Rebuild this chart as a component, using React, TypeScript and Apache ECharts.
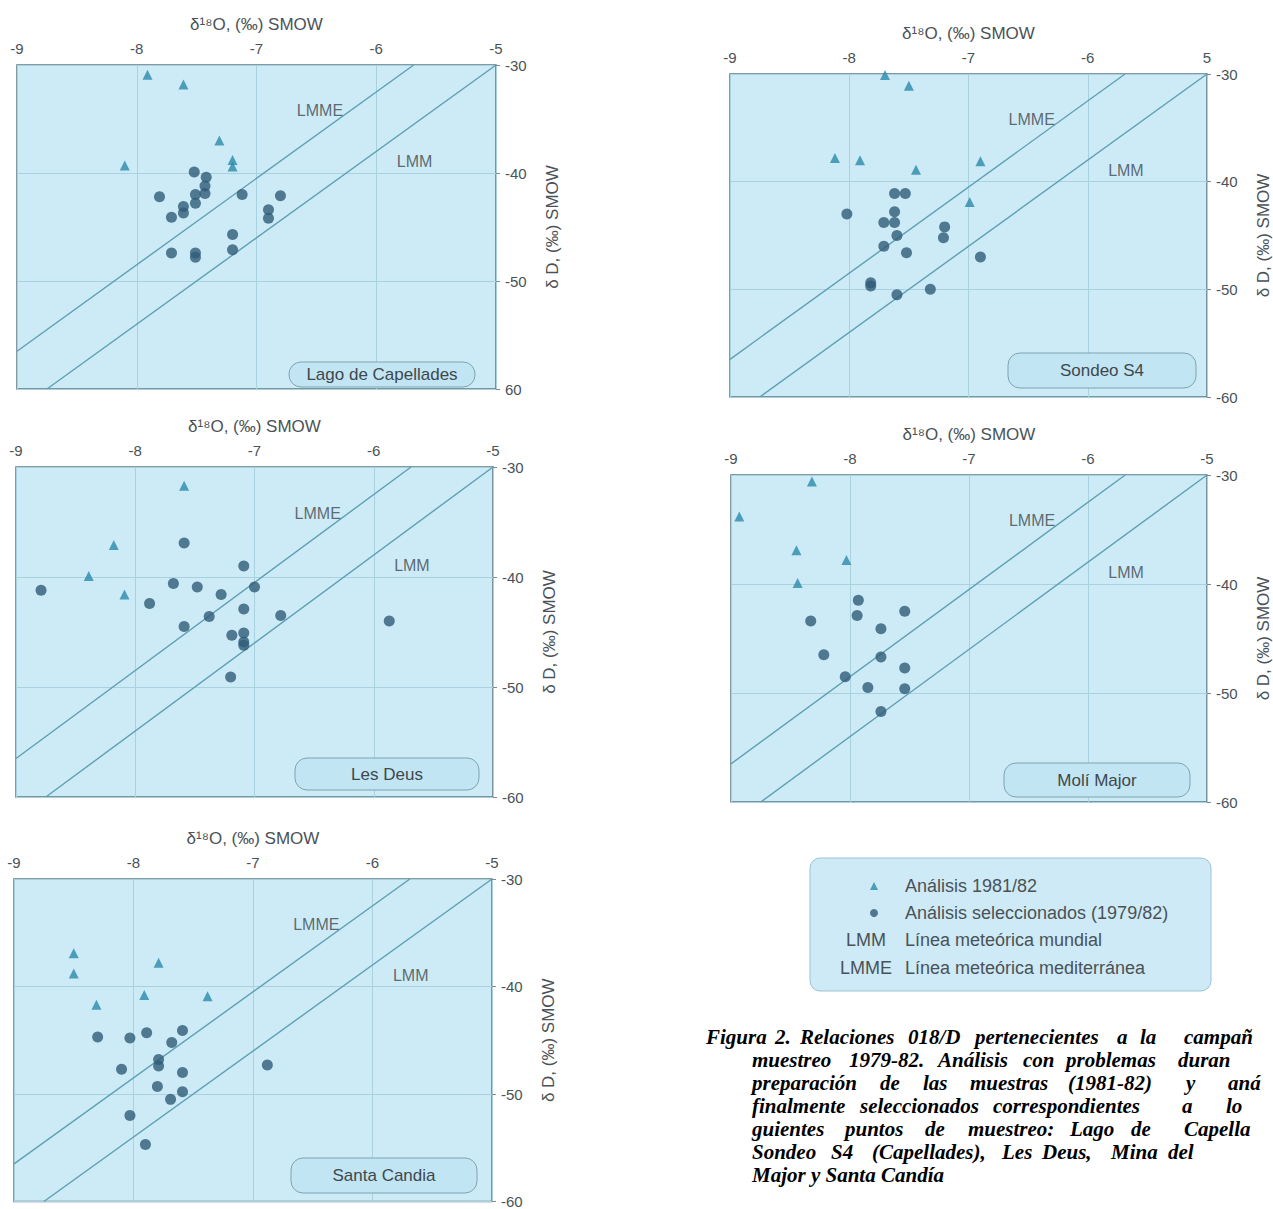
import React, { useEffect, useRef } from "react";
import * as echarts from "echarts";

// ---------- tick labels ----------
const xTickLabels = ["-9", "-8", "-7", "-6", "-5"];
const xTickLabelsSondeo = ["-9", "-8", "-7", "-6", "5"];
const yTickLabels = ["-60", "-50", "-40", "-30"];
const yTickLabelsLago = ["60", "-50", "-40", "-30"];

const xAxisName = "δ¹⁸O, (‰) SMOW";
const yAxisName = "δ D, (‰) SMOW";

const panelNames = ["Lago de Capellades", "Sondeo S4", "Les Deus", "Molí Major", "Santa Candia"];

const triName = "Análisis 1981/82";
const circName = "Análisis seleccionados (1979/82)";

// ---------- data [δ18O, δD] ----------
const lagoTriangles = [[-7.91, -30.9], [-7.61, -31.8], [-7.31, -37.0], [-8.10, -39.3], [-7.20, -38.8], [-7.20, -39.4]];
const lagoCircles = [
  [-7.52, -39.9], [-7.42, -40.4], [-7.43, -41.2], [-7.43, -41.9], [-7.81, -42.2], [-7.51, -42.0],
  [-7.51, -42.8], [-7.12, -42.0], [-6.80, -42.1], [-7.61, -43.1], [-7.61, -43.7], [-7.71, -44.1],
  [-6.90, -43.4], [-6.90, -44.2], [-7.20, -45.7], [-7.20, -47.1], [-7.71, -47.4], [-7.51, -47.4], [-7.51, -47.8],
];

const sondeoTriangles = [[-7.70, -30.1], [-7.50, -31.1], [-8.12, -37.8], [-7.91, -38.0], [-7.44, -38.9], [-6.90, -38.1], [-6.99, -41.9]];
const sondeoCircles = [
  [-7.62, -41.1], [-7.53, -41.1], [-8.02, -43.0], [-7.62, -42.8], [-7.71, -43.8], [-7.62, -43.8],
  [-7.60, -45.0], [-7.20, -44.2], [-7.21, -45.2], [-7.71, -46.0], [-7.52, -46.6], [-6.90, -47.0],
  [-7.82, -49.4], [-7.82, -49.7], [-7.32, -50.0], [-7.60, -50.5],
];

const deusTriangles = [[-7.59, -31.7], [-8.18, -37.1], [-8.39, -39.9], [-8.09, -41.6]];
const deusCircles = [
  [-8.79, -41.2], [-7.59, -36.9], [-7.09, -39.0], [-7.68, -40.6], [-7.48, -40.9], [-7.00, -40.9],
  [-7.28, -41.6], [-7.88, -42.4], [-7.09, -42.9], [-7.38, -43.6], [-6.78, -43.5], [-7.59, -44.5],
  [-5.87, -44.0], [-7.09, -45.1], [-7.19, -45.3], [-7.09, -45.9], [-7.09, -46.2], [-7.20, -49.1],
];

const moliTriangles = [[-8.32, -30.6], [-8.93, -33.8], [-8.45, -36.9], [-8.03, -37.8], [-8.44, -39.9]];
const moliCircles = [
  [-7.93, -41.5], [-7.94, -42.9], [-7.54, -42.5], [-8.33, -43.4], [-7.74, -44.1], [-8.22, -46.5],
  [-7.74, -46.7], [-7.54, -47.7], [-8.04, -48.5], [-7.85, -49.5], [-7.54, -49.6], [-7.74, -51.7],
];

const candiaTriangles = [[-8.50, -36.9], [-8.50, -38.8], [-7.79, -37.8], [-7.91, -40.8], [-7.38, -40.9], [-8.31, -41.7]];
const candiaCircles = [
  [-8.30, -44.7], [-8.03, -44.8], [-7.89, -44.3], [-7.59, -44.1], [-7.68, -45.2], [-7.79, -46.8],
  [-7.79, -47.4], [-8.10, -47.7], [-7.59, -48.0], [-6.88, -47.3], [-7.80, -49.3], [-7.59, -49.8],
  [-7.69, -50.5], [-8.03, -52.0], [-7.90, -54.7],
];

// meteoric lines (end points)
const lmmLine = [[-8.75, -60], [-5, -30]];
const lmmeLine = [[-9, -56.5], [-5.6875, -30]];
const lmmLabelPos = [-5.68, -38.95];
const lmmeLabelPos = [-6.47, -34.2];

const panelTriangles = [lagoTriangles, sondeoTriangles, deusTriangles, moliTriangles, candiaTriangles];
const panelCircles = [lagoCircles, sondeoCircles, deusCircles, moliCircles, candiaCircles];

// legend extra rows
const legendLineRows = [
  ["LMM", "Línea meteórica mundial"],
  ["LMME", "Línea meteórica mediterránea"],
];

// caption (as visible in the picture, cut at the right edge)
const captionLines = [
  ["Figura", "2.", "Relaciones", "018/D", "pertenecientes", "a", "la", "campañ"],
  ["muestreo", "1979-82.", "Análisis", "con", "problemas", "duran"],
  ["preparación", "de", "las", "muestras", "(1981-82)", "y", "aná"],
  ["finalmente", "seleccionados", "correspondientes", "a", "lo"],
  ["guientes", "puntos", "de", "muestreo:", "Lago", "de", "Capella"],
  ["Sondeo", "S4", "(Capellades),", "Les", "Deus,", "Mina", "del"],
  ["Major y Santa Candía"],
];

// ---------- layout (pixels) ----------
const panelLayout = [
  { left: 17, top: 65, width: 479, height: 324, box: [289, 362, 186, 25] },
  { left: 730, top: 74, width: 481, height: 323, box: [1008, 353, 188, 35] },
  { left: 16, top: 467, width: 477, height: 330, box: [295, 758, 184, 32] },
  { left: 731, top: 475, width: 479, height: 327, box: [1004, 763, 186, 34] },
  { left: 14, top: 879, width: 478, height: 327, box: [291, 1158, 186, 35] },
];
const captionWordX = [
  [706, 775, 800, 908, 975, 1117, 1140, 1184],
  [752, 849, 938, 1023, 1066, 1178],
  [752, 880, 923, 970, 1068, 1186, 1228],
  [752, 860, 993, 1182, 1226],
  [752, 845, 925, 968, 1070, 1131, 1184],
  [752, 831, 872, 1002, 1042, 1111, 1168],
  [752],
];
const captionY0 = 1037;
const captionStep = 23;

const FONT = '"Liberation Sans", Arial, sans-serif';
const TEXT = "#4a5257";
const TRI = "#2a8aa9";
const CIRC = "#2f5b77";
const LINEC = "#5e9fb3";

function buildOption() {
  const grid: any[] = [];
  const xAxis: any[] = [];
  const yAxis: any[] = [];
  const series: any[] = [];
  const graphic: any[] = [];

  panelLayout.forEach((p, i) => {
    grid.push({
      left: p.left,
      top: p.top,
      width: p.width,
      height: p.height,
      show: true,
      backgroundColor: "#cdebf7",
      borderColor: "#5d7884",
      borderWidth: 1.5,
    });
    const xl = i === 1 ? xTickLabelsSondeo : xTickLabels;
    const yl = i === 0 ? yTickLabelsLago : yTickLabels;
    xAxis.push({
      type: "value",
      gridIndex: i,
      position: "top",
      min: -9,
      max: -5,
      interval: 1,
      name: xAxisName,
      nameLocation: "middle",
      nameGap: 32,
      nameTextStyle: { fontSize: 17, color: TEXT, fontFamily: FONT },
      axisLine: { show: false },
      axisTick: { show: false },
      axisLabel: {
        margin: 9,
        fontSize: 15,
        color: TEXT,
        fontFamily: FONT,
        showMinLabel: true,
        showMaxLabel: true,
        formatter: (v: number) => xl[Math.round(v + 9)],
      },
      splitLine: { show: true, lineStyle: { color: "#a9d1df", width: 1 } },
    });
    yAxis.push({
      type: "value",
      gridIndex: i,
      position: "right",
      min: -60,
      max: -30,
      interval: 10,
      name: yAxisName,
      nameLocation: "middle",
      nameGap: 48,
      nameTextStyle: { fontSize: 17, color: TEXT, fontFamily: FONT },
      axisLine: { show: false },
      axisTick: { show: true, length: 4, lineStyle: { color: "#7d8c93" } },
      axisLabel: {
        margin: 9,
        fontSize: 15,
        color: TEXT,
        fontFamily: FONT,
        showMinLabel: true,
        showMaxLabel: true,
        formatter: (v: number) => yl[Math.round((v + 60) / 10)],
      },
      splitLine: { show: true, lineStyle: { color: "#a9d1df", width: 1 } },
    });

    series.push({
      type: "line",
      name: "LMM",
      xAxisIndex: i,
      yAxisIndex: i,
      data: lmmLine,
      symbol: "none",
      silent: true,
      lineStyle: { color: LINEC, width: 1.4 },
      z: 1,
    });
    series.push({
      type: "line",
      name: "LMME",
      xAxisIndex: i,
      yAxisIndex: i,
      data: lmmeLine,
      symbol: "none",
      silent: true,
      lineStyle: { color: LINEC, width: 1.4 },
      z: 1,
    });
    series.push({
      type: "scatter",
      name: triName,
      xAxisIndex: i,
      yAxisIndex: i,
      data: panelTriangles[i],
      symbol: "triangle",
      symbolSize: 10,
      itemStyle: { color: TRI },
      z: 3,
    });
    series.push({
      type: "scatter",
      name: circName,
      xAxisIndex: i,
      yAxisIndex: i,
      data: panelCircles[i],
      symbol: "circle",
      symbolSize: 11,
      itemStyle: { color: CIRC },
      z: 3,
    });
    series.push({
      type: "scatter",
      name: "labels",
      xAxisIndex: i,
      yAxisIndex: i,
      silent: true,
      symbolSize: 0,
      itemStyle: { color: "transparent" },
      data: [
        { name: "LMME", value: lmmeLabelPos },
        { name: "LMM", value: lmmLabelPos },
      ],
      label: {
        show: true,
        position: "inside",
        formatter: "{b}",
        fontSize: 16,
        color: "#3e484d",
        fontFamily: FONT,
      },
      z: 2,
    });

    const [bx, by, bw, bh] = p.box;
    graphic.push({
      type: "rect",
      z: 20,
      shape: { x: bx, y: by, width: bw, height: bh, r: 12 },
      style: { fill: "#c2e5f3", stroke: "#7fa3b0", lineWidth: 1 },
    });
    graphic.push({
      type: "text",
      z: 21,
      x: bx + bw / 2,
      y: by + bh / 2,
      style: {
        text: panelNames[i],
        fill: "#3e484d",
        font: `17px ${FONT}`,
        align: "center",
        verticalAlign: "middle",
        textAlign: "center",
        textVerticalAlign: "middle",
      },
    });
  });

  // legend box
  graphic.push({
    type: "rect",
    z: 0,
    shape: { x: 810, y: 858, width: 401, height: 133, r: 10 },
    style: { fill: "#cdeaf6", stroke: "#9cc4d2", lineWidth: 1 },
  });
  legendLineRows.forEach((row, k) => {
    const y = 940 + k * 28;
    graphic.push({
      type: "text",
      z: 5,
      x: 866,
      y,
      style: { text: row[0], fill: TEXT, font: `18px ${FONT}`, align: "center", verticalAlign: "middle", textAlign: "center", textVerticalAlign: "middle" },
    });
    graphic.push({
      type: "text",
      z: 5,
      x: 905,
      y,
      style: { text: row[1], fill: TEXT, font: `18px ${FONT}`, align: "left", verticalAlign: "middle", textAlign: "left", textVerticalAlign: "middle" },
    });
  });

  // caption
  captionLines.forEach((words, li) => {
    words.forEach((w, wi) => {
      graphic.push({
        type: "text",
        z: 5,
        x: captionWordX[li][wi],
        y: captionY0 + li * captionStep,
        style: {
          text: w,
          fill: "#000",
          font: `italic bold 21px "Liberation Serif", "Times New Roman", serif`,
          align: "left",
          verticalAlign: "middle",
          textAlign: "left",
          textVerticalAlign: "middle",
        },
      });
    });
  });

  return {
    animation: false,
    backgroundColor: "#ffffff",
    grid,
    xAxis,
    yAxis,
    series,
    graphic,
    legend: {
      orient: "vertical",
      left: 865,
      top: 872,
      itemWidth: 8,
      itemHeight: 8,
      itemGap: 9,
      data: [
        { name: triName, icon: "triangle" },
        { name: circName, icon: "circle" },
      ],
      formatter: (name: string) => `{g|}{t|${name}}`,
      textStyle: {
        fontSize: 18,
        color: TEXT,
        fontFamily: FONT,
        rich: {
          g: { width: 22 },
          t: { fontSize: 18, color: TEXT, fontFamily: FONT },
        },
      },
    },
  };
}

export default function App() {
  const ref = useRef<HTMLDivElement>(null);
  useEffect(() => {
    if (!ref.current) return;
    const chart = echarts.init(ref.current, undefined, { renderer: "svg" });
    chart.setOption(buildOption() as any);
    return () => chart.dispose();
  }, []);
  return (
    <div
      ref={ref}
      style={{ position: "fixed", left: 0, top: 0, width: 1273, height: 1209, background: "#fff" }}
    />
  );
}
